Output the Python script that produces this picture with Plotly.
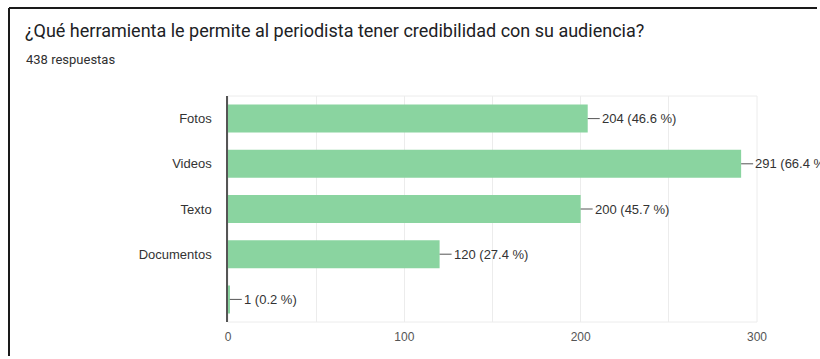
import plotly.graph_objects as go

# Survey results
categories = ["Fotos", "Videos", "Texto", "Documentos", " "]
counts = [204, 291, 200, 120, 1]
total_responses = 438

title_text = "¿Qué herramienta le permite al periodista tener credibilidad con su audiencia?"
subtitle_text = f"{total_responses} respuestas"
x_ticks = [0, 100, 200, 300]

W, H = 820, 359
ML, MR, MT, MB = 228, 63, 96, 37
PW = W - ML - MR
PH = H - MT - MB


def px_to_paper_x(px):
    return (px - ML) / PW


def px_to_paper_y(py):
    return (H - MB - py) / PH


bar_color = "#8ad4a0"
text_color = "#333333"

fig = go.Figure()
fig.add_trace(go.Bar(
    x=counts,
    y=categories,
    orientation="h",
    marker=dict(color=bar_color, line=dict(width=0)),
    hoverinfo="skip",
))

# Value labels with a short leader line from the end of each bar
for cat, val in zip(categories, counts):
    pct = val / total_responses * 100
    fig.add_annotation(
        x=val, y=cat, xref="x", yref="y",
        text=f"{val} ({pct:.1f} %)",
        showarrow=True, arrowhead=0, arrowwidth=1, arrowcolor="#555555",
        ax=12, ay=0, xanchor="left", yanchor="middle",
        font=dict(family="Liberation Sans, Arial, sans-serif", size=13, color=text_color),
        standoff=0, startstandoff=0,
    )

# Subtitle
fig.add_annotation(
    x=px_to_paper_x(24), y=px_to_paper_y(59), xref="paper", yref="paper",
    text=subtitle_text, showarrow=False, xanchor="left", yanchor="middle",
    font=dict(family="Roboto, sans-serif", size=13, color="#303030"),
)

# Light frame around the plotting area
fig.add_shape(type="rect", xref="paper", yref="paper", x0=0, x1=1, y0=0, y1=1,
              line=dict(color="#ececec", width=1), layer="below")

# Card border along the top and left edges
fig.add_shape(type="line", xref="paper", yref="paper",
              x0=px_to_paper_x(9), x1=px_to_paper_x(W - 3),
              y0=px_to_paper_y(8), y1=px_to_paper_y(8),
              line=dict(color="#1a1a1a", width=2))
fig.add_shape(type="line", xref="paper", yref="paper",
              x0=px_to_paper_x(9), x1=px_to_paper_x(9),
              y0=px_to_paper_y(8), y1=px_to_paper_y(H - 3),
              line=dict(color="#1a1a1a", width=2))

fig.update_layout(
    width=W, height=H,
    margin=dict(l=ML, r=MR, t=MT, b=MB),
    paper_bgcolor="white", plot_bgcolor="white",
    showlegend=False,
    bargap=0.38,
    title=dict(
        text=title_text, xref="container", yref="container",
        x=25 / W, y=1 - 31 / H, xanchor="left", yanchor="middle",
        font=dict(family="Roboto, sans-serif", size=18, color="#202124"),
    ),
    xaxis=dict(
        range=[0, 300], tickvals=x_ticks, ticktext=[str(t) for t in x_ticks],
        showgrid=True, gridcolor="#ececec", gridwidth=1,
        minor=dict(dtick=50, showgrid=True, gridcolor="#ececec", gridwidth=1),
        zeroline=False, showline=False,
        tickfont=dict(family="Liberation Sans, Arial, sans-serif", size=12, color="#555555"),
        ticklabelstandoff=6,
        fixedrange=True,
    ),
    yaxis=dict(
        categoryorder="array", categoryarray=categories, autorange="reversed",
        showgrid=False, zeroline=False,
        showline=True, linecolor="#555555", linewidth=1.5,
        tickfont=dict(family="Liberation Sans, Arial, sans-serif", size=13, color=text_color),
        ticklabelstandoff=12,
        fixedrange=True,
    ),
)

fig.write_html("out.html", config={"displayModeBar": False})
